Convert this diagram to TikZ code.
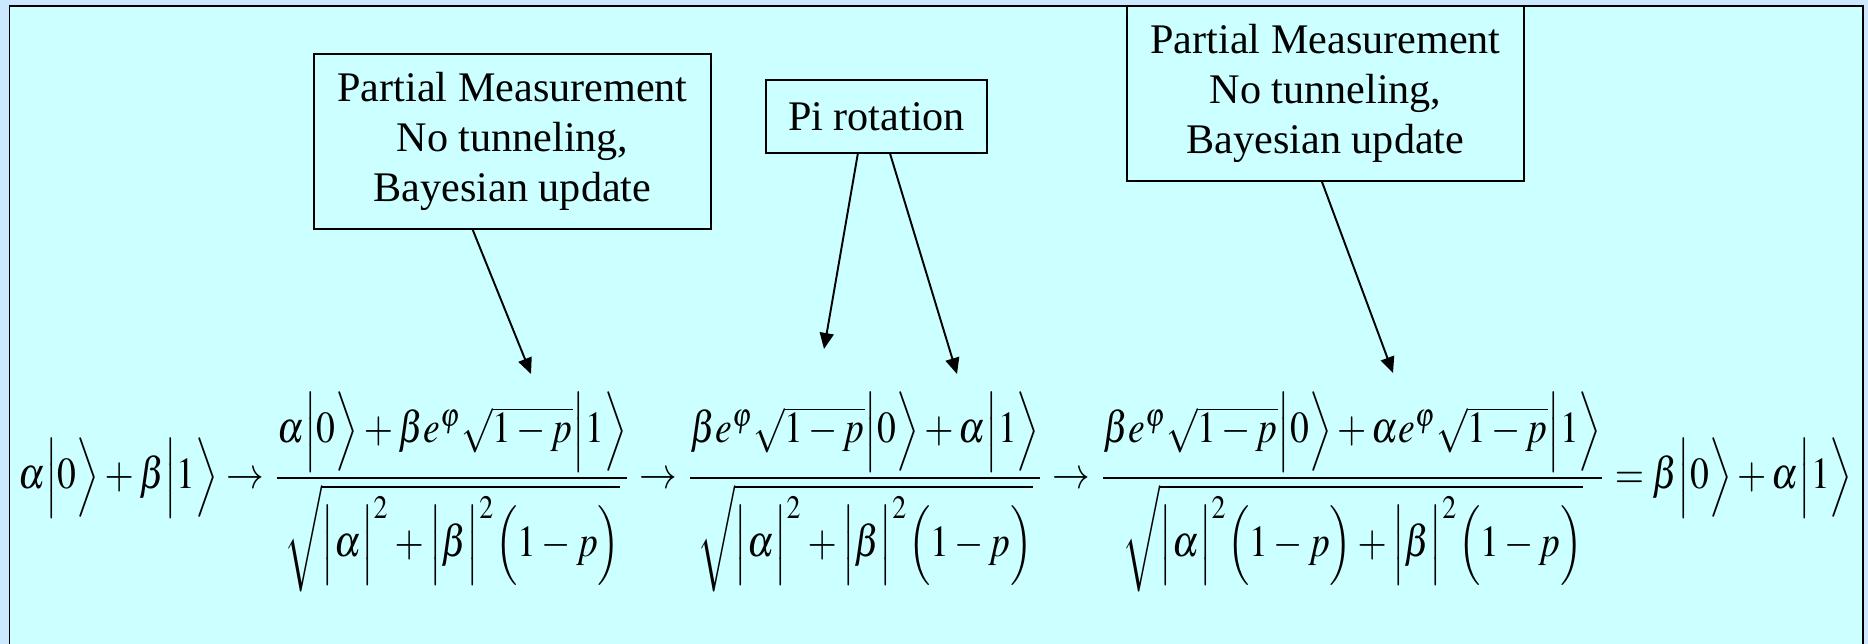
\documentclass[tikz,border=0pt]{standalone}
\usepackage{amsmath}
\usepackage{graphicx}
\usepackage{mathptmx}
\usepackage{fontspec}
\setmainfont{Liberation Serif}
\usetikzlibrary{arrows.meta,calc}

\definecolor{backdrop}{HTML}{CCE8FF}
\definecolor{panel}{HTML}{CCFFFF}

\newcommand{\qket}[1]{\Bigl|#1\Bigr\rangle}
\newcommand{\qabs}[1]{\Bigl|#1\Bigr|^{2}}
\newcommand{\qpar}{\Bigl(1-p\Bigr)}

\begin{document}
\begin{tikzpicture}[x=0.02cm,y=-0.02cm,note/.style={draw=black, line width=0.8pt, fill=panel, align=center, inner sep=0pt, font=\fontsize{24}{28.7}\selectfont},pointer/.style={line width=1.1pt, -{Triangle[length=0.32cm,width=0.28cm]}}]
\clip (0,0) rectangle (1868,644);
\fill[backdrop] (0,0) rectangle (1868,644);
\draw[fill=panel, line width=1.1pt] (9.5,6) rectangle (1863,670);
\node[note, minimum width=7.94cm, minimum height=3.5cm] (pmLeft) at (512.5,141.5) {Partial Measurement\\No tunneling,\\Bayesian update};
\node[note, minimum width=4.42cm, minimum height=1.46cm] (piRot) at (876.5,116.5) {Pi rotation};
\node[note, minimum width=7.94cm, minimum height=3.5cm] (pmRight) at (1325.5,93.5) {Partial Measurement\\No tunneling,\\Bayesian update};
\node[inner sep=0pt] (chain) at (935.5,492) {\resizebox*{36.7cm}{4.0cm}{$\displaystyle
\alpha\qket{0}+\beta\qket{1}\rightarrow
\frac{\alpha\qket{0}+\beta e^{\varphi}\sqrt{1-p}\qket{1}}{\sqrt{\qabs{\alpha}+\qabs{\beta}\qpar}}\rightarrow
\frac{\beta e^{\varphi}\sqrt{1-p}\qket{0}+\alpha\qket{1}}{\sqrt{\qabs{\alpha}+\qabs{\beta}\qpar}}\rightarrow
\frac{\beta e^{\varphi}\sqrt{1-p}\qket{0}+\alpha e^{\varphi}\sqrt{1-p}\qket{1}}{\sqrt{\qabs{\alpha}\qpar+\qabs{\beta}\qpar}}=\beta\qket{0}+\alpha\qket{1}$}};
\coordinate (tipA) at (531,374);
\coordinate (tipB) at (824,349);
\coordinate (tipC) at (957,374);
\coordinate (tipD) at (1393,373);
\draw[pointer] ($(pmLeft.south west)!0.4!(pmLeft.south east)$) -- (tipA);
\draw[pointer] ($(piRot.south west)!0.416!(piRot.south east)$) -- (tipB);
\draw[pointer] ($(piRot.south west)!0.561!(piRot.south east)$) -- (tipC);
\draw[pointer] ($(pmRight.south west)!0.491!(pmRight.south east)$) -- (tipD);
\end{tikzpicture}
\end{document}
